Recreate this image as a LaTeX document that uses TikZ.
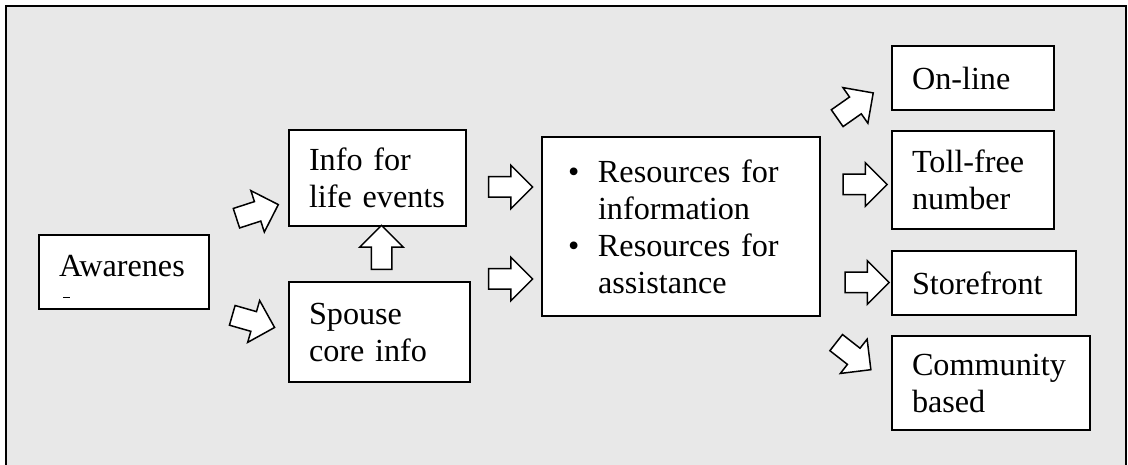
\documentclass[tikz,border=0pt]{standalone}
\usepackage{fontspec}
\setmainfont{Liberation Serif}
\usetikzlibrary{shapes,arrows,positioning}
\definecolor{panel}{RGB}{232,232,232}
\tikzset{
  stage/.style={draw, fill=white, line width=2pt, align=left, inner xsep=20pt, inner ysep=0pt,
    font=\fontsize{32.2}{37}\selectfont},
  flow/.style={single arrow, draw, fill=white, line width=1.5pt, inner xsep=0pt, inner ysep=9.5pt,
    minimum height=44pt, single arrow head extend=11.5pt},
}
\newcommand{\bul}{\hspace*{6pt}\makebox[30pt][l]{\textbullet}}
\newcommand{\hang}{\hspace*{36pt}}

\begin{document}
\begin{tikzpicture}[x=1pt,y=1pt]
  \useasboundingbox (0,0) rectangle (1128,464);
  %frame
  \fill[panel] (6,-5) rectangle (1126,458);
  \draw[line width=2.5pt] (6,-5) -- (6,458) -- (1126,458) -- (1126,-5);
  %left
  \node [stage, text width=130pt, minimum height=74pt, text depth=13pt] (aware) at (124,192) {Awarenes};
  \draw[line width=1pt] (63,166) -- (70,166);
  \node [stage, text width=137pt, minimum height=96pt] (info) at (377.5,286) {Info for\\life events};
  \node [stage, text width=141pt, minimum height=100pt] (spouse) at (379.5,132) {Spouse\\core info};
  %middle
  \node [stage, text width=238pt, minimum height=179pt] (res) at (681,237.5)
    {\bul Resources for\\\hang information\\\bul Resources for\\\hang assistance};
  %right
  \node [stage, text width=122pt, minimum height=64pt] (online) at (973,386) {On-line};
  \node [stage, text width=122pt, minimum height=98pt] (toll) at (973,284) {Toll-free\\number};
  \node [stage, text width=144pt, minimum height=64pt] (store) at (984,181) {Storefront};
  \node [stage, text width=158pt, minimum height=94pt] (comm) at (991,81) {Community\\based};
  %block arrows
  \node [flow, rotate=18] (aw-info) at (252.5,251) {};
  \node [flow, rotate=-16] (aw-spouse) at (248.5,144) {};
  \node [flow, rotate=90] (spouse-info) at (381.5,211.5) {};
  \node [flow] (info-res) at (505.5,277) {};
  \node [flow] (spouse-res) at (505.5,185) {};
  \node [flow, rotate=35] (res-online) at (851,355.5) {};
  \node [flow] (res-toll) at (860,279.5) {};
  \node [flow] (res-store) at (862,181.5) {};
  \node [flow, rotate=-38] (res-comm) at (849.5,111) {};
\end{tikzpicture}
\end{document}
